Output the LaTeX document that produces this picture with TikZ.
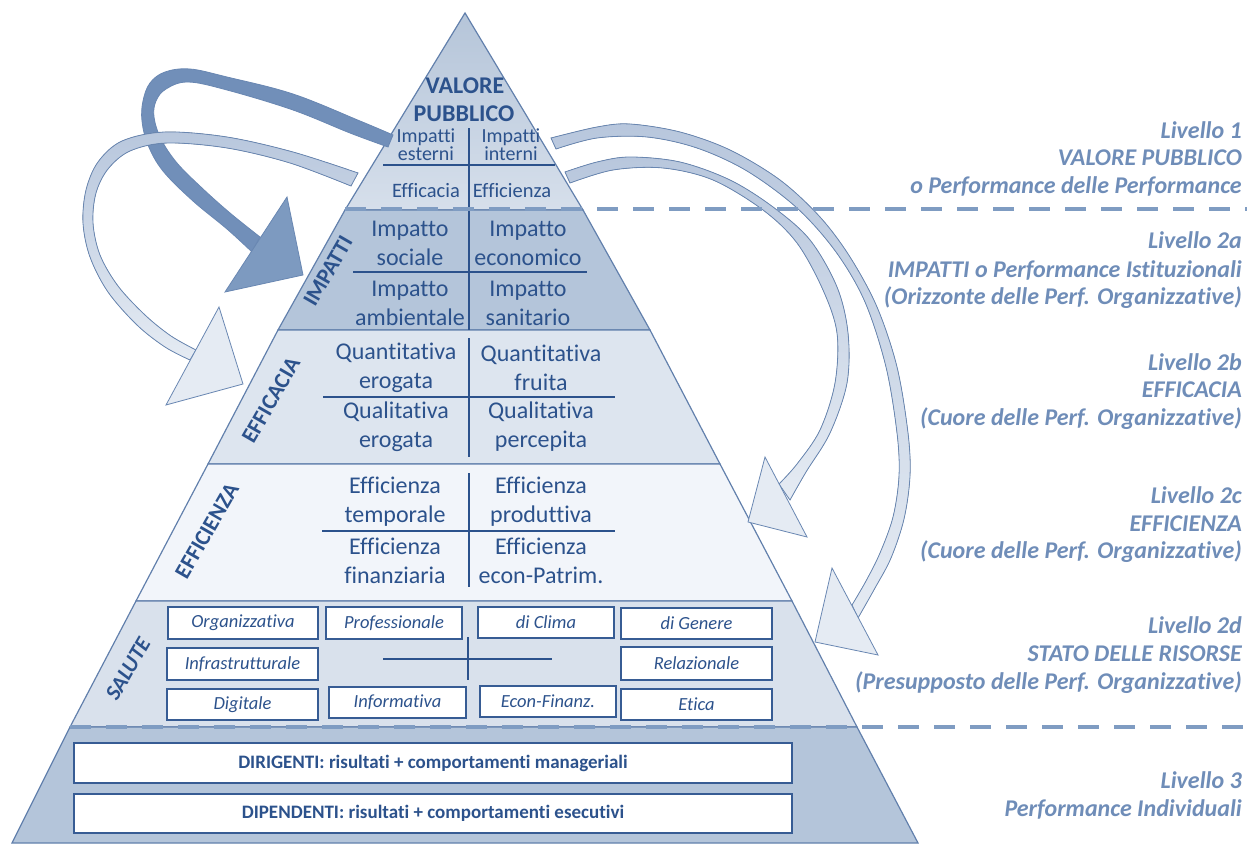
\documentclass[tikz,border=0pt]{standalone}
\usepackage{fontspec}
\setmainfont{Carlito}[Ligatures={NoCommon}]
\newcommand\myfs[2]{\fontsize{#1}{#2}\selectfont}
\definecolor{txt}{RGB}{44,82,140}
\definecolor{rtxt}{RGB}{111,141,184}
\definecolor{edgec}{RGB}{98,128,172}
\definecolor{boxb}{RGB}{55,92,148}
\definecolor{dashc}{RGB}{127,156,194}
\definecolor{darkar}{RGB}{113,143,185}
\definecolor{darkhd}{RGB}{125,154,192}
\definecolor{arline}{RGB}{105,135,178}
\definecolor{lightA}{RGB}{184,199,221}
\definecolor{lightB}{RGB}{229,235,243}
\definecolor{topA}{RGB}{181,197,217}
\definecolor{topB}{RGB}{234,239,245}
\definecolor{topC}{RGB}{214,223,235}
\definecolor{fImp}{RGB}{180,197,218}
\definecolor{fEfc}{RGB}{221,229,239}
\definecolor{fEff}{RGB}{242,245,250}
\definecolor{fSal}{RGB}{217,225,236}
\definecolor{fLiv}{RGB}{180,197,218}
\begin{document}
\begin{tikzpicture}[x=1pt,y=-1pt,
  band/.style={draw=edgec, line width=1.2pt},
  grid/.style={draw=txt, line width=1.4pt},
  cell/.style={text=txt, align=center, font=\myfs{24}{29}, inner sep=0pt},
  small/.style={text=txt, align=center, font=\myfs{20}{16}, inner sep=0pt},
  side/.style={text=txt, font=\bfseries\myfs{22.5}{22}, rotate=60, inner sep=0pt},
  sbox/.style={draw=boxb, line width=1.4pt, fill=white, text=txt, font=\itshape\myfs{18.5}{18}, inner sep=0pt},
  bbox/.style={draw=boxb, line width=1.6pt, fill=white, text=txt, font=\bfseries\myfs{19}{19}, inner sep=0pt},
  rtext/.style={text=rtxt, font=\bfseries\itshape\myfs{24}{22}, anchor=base east, inner sep=0pt},
  darrow/.style={fill=darkar, draw=arline, line width=0.8pt},
  larrow/.style={top color=lightA, bottom color=lightB, draw=arline, line width=0.8pt},
  lhead/.style={fill=lightB, draw=arline, line width=0.8pt},
  dline/.style={draw=dashc, line width=4.5pt, dash pattern=on 21pt off 15pt}
]
\useasboundingbox (0,0) rectangle (1247,843);

% ---------- pyramid bands ----------
\shade[top color=topA, middle color=topB, bottom color=topC] (465,13) -- (345,210) -- (583,210) -- cycle;
\draw[band] (465,13) -- (345,210) -- (583,210) -- cycle;
\filldraw[band, fill=fImp] (345,210) -- (278,330) -- (650,330) -- (583,210) -- cycle;
\filldraw[band, fill=fEfc] (278,330) -- (208,464) -- (720,464) -- (650,330) -- cycle;
\filldraw[band, fill=fEff] (208,464) -- (136,601) -- (792,601) -- (720,464) -- cycle;
\filldraw[band, fill=fSal] (136,601) -- (70,727) -- (857,727) -- (792,601) -- cycle;
\filldraw[band, fill=fLiv] (70,727) -- (12,843) -- (918,843) -- (857,727) -- cycle;

% ---------- grid lines ----------
\draw[grid] (469,128) -- (469,210);
\draw[grid] (383,165) -- (555,165);
\draw[grid] (469,210) -- (469,330);
\draw[grid] (353,272) -- (587,272);
\draw[grid] (469,338) -- (469,457);
\draw[grid] (323,397) -- (615,397);
\draw[grid] (469,473) -- (469,587);
\draw[grid] (322,531) -- (615,531);
\draw[grid] (468,637) -- (468,680);
\draw[grid] (383,659) -- (552,659);

% ---------- top triangle texts ----------
\node[text=txt, font=\bfseries\myfs{24}{24}, inner sep=0pt] (vp1) at (465,86) {VALORE};
\node[text=txt, font=\bfseries\myfs{24}{24}, inner sep=0pt] (vp2) at (464,114) {PUBBLICO};
\node[small] (ie) at (426,145) {Impatti\\esterni};
\node[small] (ii) at (511,145) {Impatti\\interni};
\node[small, font=\myfs{20.5}{16}] (ea) at (426,191) {Efficacia};
\node[small, font=\myfs{20.5}{16}] (ez) at (512,191) {Efficienza};

% ---------- band cells ----------
\node[cell] (c1) at (410,243) {Impatto\\sociale};
\node[cell] (c2) at (528,243) {Impatto\\economico};
\node[cell] (c3) at (410,303) {Impatto\\ambientale};
\node[cell] (c4) at (528,303) {Impatto\\sanitario};
\node[cell] (c5) at (396,368) {Quantitativa\\erogata};
\node[cell] (c6) at (541,368) {Quantitativa\\fruita};
\node[cell] (c7) at (396,427) {Qualitativa\\erogata};
\node[cell] (c8) at (541,427) {Qualitativa\\percepita};
\node[cell] (c9) at (395,502) {Efficienza\\temporale};
\node[cell] (c10) at (541,502) {Efficienza\\produttiva};
\node[cell] (c11) at (395,561) {Efficienza\\finanziaria};
\node[cell] (c12) at (541,561) {Efficienza\\econ-Patrim.};

% ---------- side labels ----------
\node[side] (sImp) at (328,271) {IMPATTI};
\node[side] (sEfc) at (271,400) {EFFICACIA};
\node[side] (sEff) at (207,531) {EFFICIENZA};
\node[side, font=\bfseries\itshape\myfs{22}{22}] (sSal) at (128,669) {SALUTE};

% ---------- salute boxes ----------
\node[sbox, minimum width=150pt, minimum height=32pt] (b1) at (243,623) {Organizzativa};
\node[sbox, minimum width=136pt, minimum height=32pt] (b2) at (394,623) {Professionale};
\node[sbox, minimum width=136pt, minimum height=31pt] (b3) at (546,622.5) {di Clima};
\node[sbox, minimum width=151pt, minimum height=31pt] (b4) at (696.5,623.5) {di Genere};
\node[sbox, minimum width=151pt, minimum height=32pt] (b5) at (242.5,664) {Infrastrutturale};
\node[sbox, minimum width=151pt, minimum height=33pt] (b6) at (696.5,663.5) {Relazionale};
\node[sbox, minimum width=151pt, minimum height=31pt] (b7) at (242.5,704.5) {Digitale};
\node[sbox, minimum width=137pt, minimum height=31pt] (b8) at (397.5,702.5) {Informativa};
\node[sbox, minimum width=136pt, minimum height=31pt] (b9) at (548,701.5) {Econ-Finanz.};
\node[sbox, minimum width=151pt, minimum height=31pt] (b10) at (696.5,704.5) {Etica};

% ---------- level 3 boxes ----------
\node[bbox, minimum width=718pt, minimum height=40pt] (dir) at (433,763) {DIRIGENTI: risultati + comportamenti manageriali};
\node[bbox, minimum width=718pt, minimum height=39pt] (dip) at (433,813.5) {DIPENDENTI: risultati + comportamenti esecutivi};

% ---------- arrows ----------
% dark arrow (to IMPATTI)
\filldraw[darrow] plot[smooth, tension=0.6] coordinates {(393,135) (360,121) (293,94) (227,77) (190,69) (165,72) (150,83) (143,101) (142,121) (148,145) (163,171) (193,201) (227,229) (252,252)}
  -- plot[smooth, tension=0.6] coordinates {(260,237) (230,213) (202,188) (177,163) (161,139) (154,117) (156,101) (166,89) (188,82) (227,90) (293,110) (350,133) (388,147)} -- cycle;
\filldraw[fill=darkhd, draw=arline, line width=0.8pt] (287,197) -- (303,275) -- (225,292) -- cycle;
% light arrow (to EFFICACIA)
\filldraw[larrow] plot[smooth, tension=0.55] coordinates {(358,173) (293,152) (227,137) (165,132) (122,141) (98,162) (86,190) (83,223) (90,257) (108,292) (137,325) (165,347) (190,360)}
  -- plot[smooth, tension=0.55] coordinates {(196,350) (171,336) (145,315) (118,286) (100,255) (93,223) (96,193) (108,169) (130,151) (167,143) (227,148) (290,163) (351,186)} -- cycle;
\filldraw[lhead] (219,307) -- (243,384) -- (166,405) -- cycle;
% right arrow (to SALUTE)
\filldraw[larrow] plot[smooth, tension=0.55] coordinates {(551,138) (597,127) (630,124) (680,132) (730,150) (780,180) (820,217) (850,257) (877,307) (897,367) (908,433) (910,476) (904,519) (891,558) (875,588) (858,618)}
  -- plot[smooth, tension=0.55] coordinates {(852,605) (866,581) (880,553) (893,517) (899,476) (897,433) (886,367) (865,302) (836,252) (797,208) (747,171) (697,148) (647,137) (597,138) (556,149)} -- cycle;
\filldraw[lhead] (832,568) -- (878,655) -- (815,642) -- cycle;
% right arrow (to EFFICIENZA)
\filldraw[larrow] plot[smooth, tension=0.55] coordinates {(565,172) (597,162) (630,157) (680,162) (730,180) (773,207) (810,240) (837,287) (848,333) (847,383) (830,433) (806,472) (790,500)}
  -- plot[smooth, tension=0.55] coordinates {(779,484) (797,464) (820,430) (835,383) (837,333) (823,290) (797,243) (763,210) (713,180) (663,168) (613,170) (570,183)} -- cycle;
\filldraw[lhead] (765,457) -- (807,537) -- (748,522) -- cycle;

% ---------- dashed level separators ----------
\coordinate (d1a) at (345,209);
\coordinate (d1b) at (1247,209);
\coordinate (d2a) at (70,727);
\coordinate (d2b) at (1247,727);
\draw[dline] (d1a) -- (d1b);
\draw[dline] (d2a) -- (d2b);

% ---------- right texts ----------
\node[rtext] (l1a) at (1242,138) {Livello 1};
\node[rtext] (l1b) at (1242,165) {VALORE PUBBLICO};
\node[rtext] (l1c) at (1242,193) {o Performance delle Performance};
\node[rtext] (l2a) at (1242,248) {Livello 2a};
\node[rtext] (l2b) at (1242,277) {IMPATTI o Performance Istituzionali};
\node[rtext] (l2c) at (1242,304) {(Orizzonte delle Perf. Organizzative)};
\node[rtext] (l3a) at (1242,370) {Livello 2b};
\node[rtext] (l3b) at (1242,397) {EFFICACIA};
\node[rtext] (l3c) at (1242,425) {(Cuore delle Perf. Organizzative)};
\node[rtext] (l4a) at (1242,503) {Livello 2c};
\node[rtext] (l4b) at (1242,531) {EFFICIENZA};
\node[rtext] (l4c) at (1242,558) {(Cuore delle Perf. Organizzative)};
\node[rtext] (l5a) at (1242,633) {Livello 2d};
\node[rtext] (l5b) at (1242,661) {STATO DELLE RISORSE};
\node[rtext] (l5c) at (1242,689) {(Presupposto delle Perf. Organizzative)};
\node[rtext] (l6a) at (1242,788) {Livello 3};
\node[rtext] (l6b) at (1242,816) {Performance Individuali};
\end{tikzpicture}
\end{document}
